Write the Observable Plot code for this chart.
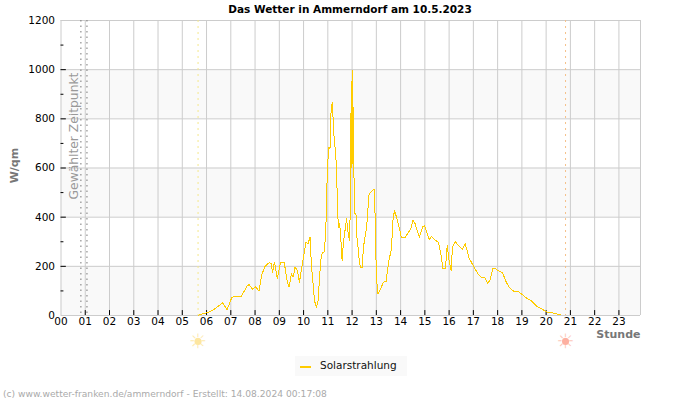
<!DOCTYPE html>
<html>
<head>
<meta charset="utf-8">
<script src="https://cdn.jsdelivr.net/npm/d3@7"></script>
<script src="https://cdn.jsdelivr.net/npm/@observablehq/plot@0.6"></script>
<style>
html,body{margin:0;padding:0;background:#fff;overflow:hidden;font-family:"DejaVu Sans",sans-serif}
#wrap{position:relative;width:700px;height:400px}
#wrap svg{position:absolute;left:0;top:0}
.ab{position:absolute;white-space:nowrap}
#title{left:0;width:700px;top:3px;text-align:center;font-weight:bold;font-size:10.5px;color:#000}
#legend{left:295px;top:356px;width:112px;height:20px;background:#f9f9f9}
#swatch{position:absolute;left:5px;top:10px;width:11px;height:2px;background:#ffcc00}
#ltext{position:absolute;left:25px;top:3px;font-size:10.5px;color:#111}
#caption{left:3px;top:389px;font-size:9.15px;color:#aaa}
</style>
</head>
<body>
<div id="wrap">
<div id="chart"></div>
<div class="ab" id="title"></div>
<div class="ab" id="legend"><div id="swatch"></div><div id="ltext"></div></div>
<div class="ab" id="caption"></div>
</div>
<script>
const titleText = "Das Wetter in Ammerndorf am 10.5.2023";
const seriesName = "Solarstrahlung";
const captionText = "(c) www.wetter-franken.de/ammerndorf - Erstellt: 14.08.2024 00:17:08";
const yLabel = "W/qm";
const xLabel = "Stunde";
const markerLabel = "Gewählter Zeitpunkt";

const hourTicks = d3.range(0, 24);
const yMajor = [0, 200, 400, 600, 800, 1000, 1200];
const yMinor = [100, 300, 500, 700, 900, 1100];
const bandLow = [0, 400, 800];
const bandHigh = [200, 600, 1000];
const sunrise = 5.65;
const sunset = 20.8;
const selected = [0.82, 1.07];

const hours = [5.65,5.75,6.0,6.22,6.43,6.67,6.84,7.05,7.42,7.67,7.75,7.9,8.03,8.16,8.27,8.4,8.57,8.66,8.72,8.8,8.92,9.05,9.2,9.33,9.4,9.5,9.57,9.65,9.75,9.83,9.93,10.02,10.1,10.18,10.27,10.32,10.38,10.45,10.53,10.6,10.65,10.71,10.78,10.85,10.9,10.94,10.98,11.04,11.09,11.12,11.18,11.2,11.26,11.33,11.37,11.4,11.44,11.49,11.55,11.59,11.64,11.7,11.77,11.81,11.86,11.9,11.93,11.945,11.975,12.0,12.02,12.045,12.08,12.11,12.16,12.2,12.26,12.3,12.36,12.41,12.47,12.54,12.6,12.65,12.7,12.77,12.84,12.91,12.92,12.96,12.98,13.02,13.07,13.18,13.29,13.4,13.46,13.53,13.6,13.65,13.69,13.75,13.83,13.94,14.03,14.17,14.28,14.42,14.51,14.6,14.7,14.78,14.9,14.98,15.08,15.18,15.27,15.45,15.56,15.66,15.75,15.85,15.92,16.0,16.08,16.14,16.25,16.55,16.66,16.83,17.0,17.2,17.31,17.48,17.59,17.69,17.8,17.93,18.02,18.2,18.35,18.49,18.7,18.87,19.03,19.23,19.37,19.6,19.81,20.03,20.27,20.47,20.6];
const watts = [0,4,11,19,34,52,23,75,77,119,126,107,117,99,163,199,214,213,176,217,149,217,217,136,115,170,156,197,183,136,197,251,298,292,319,210,142,61,31,61,142,224,258,258,319,414,597,685,678,814,868,834,719,651,556,427,359,373,292,224,292,339,393,359,319,305,475,823,600,997,620,848,556,414,414,319,264,217,194,194,278,325,359,427,495,502,508,513,420,414,244,136,88,108,136,138,183,231,258,319,393,427,400,359,319,316,332,353,386,373,339,319,359,366,339,308,321,305,297,251,190,190,285,224,183,278,300,268,293,232,202,168,157,153,130,144,191,189,182,174,137,113,96,96,84,68,61,39,27,14,11,5,3];
const solar = hours.map((h, i) => ({h, w: watts[i]}));
const bands = bandLow.map((lo, i) => ({lo, hi: bandHigh[i]}));

const font = '"DejaVu Sans", sans-serif';
const chart = Plot.plot({
  width: 700, height: 400,
  marginLeft: 60.5, marginRight: 60, marginTop: 20, marginBottom: 85,
  style: {fontFamily: font, fontSize: "10.5px", background: "transparent", overflow: "visible"},
  x: {domain: [0, 23.89], label: null},
  y: {domain: [0, 1200], label: null},
  marks: [
    Plot.rectY(bands, {x1: 0, x2: 23.89, y1: "lo", y2: "hi", fill: "#f9f9f9"}),
    Plot.ruleX(hourTicks, {stroke: "#cccccc", strokeWidth: 1}),
    Plot.ruleY(yMajor, {stroke: "#cccccc", strokeWidth: 1}),
    Plot.ruleX([23.89], {stroke: "#cccccc", strokeWidth: 1}),
    Plot.ruleX(hourTicks.slice(1), {y1: 0, y2: 20, stroke: "#000"}),
    Plot.ruleY(yMajor.slice(1, -1), {x1: 0, x2: 0.22, stroke: "#000"}),
    Plot.ruleY(yMinor, {x1: 0, x2: 0.12, stroke: "#000"}),
    Plot.ruleX([sunrise], {stroke: "#f5e88a", strokeDasharray: "2 4"}),
    Plot.ruleX([sunset], {stroke: "#f5c08a", strokeDasharray: "2 4"}),
    Plot.ruleX(selected, {stroke: "#777", strokeDasharray: "1.5 4"}),
    Plot.text([markerLabel], {x: 0.52, y: 730, text: d => d, rotate: -90, fontSize: 12.3, fill: "#999"}),
    Plot.line(solar, {x: "h", y: "w", stroke: "#ffcc00", strokeWidth: 1, shapeRendering: "crispEdges"}),
    Plot.text(["☀"], {x: sunrise, y: 0, dy: 26, text: d => d, fontSize: 20, fill: "#fdeab0"}),
    Plot.dot([sunrise], {x: d => d, y: 0, dy: 26, r: 3.5, fill: "#fde6a0"}),
    Plot.text(["☀"], {x: sunset, y: 0, dy: 26, text: d => d, fontSize: 20, fill: "#fdc8b8"}),
    Plot.dot([sunset], {x: d => d, y: 0, dy: 26, r: 3.5, fill: "#fdb0a0"}),
    Plot.axisX({ticks: hourTicks, tickSize: 0, tickPadding: 2, tickFormat: d => String(d).padStart(2, "0"), label: null, fill: "#000"}),
    Plot.axisY({ticks: yMajor, tickSize: 0, tickPadding: 6, label: null, tickFormat: d => String(d), fill: "#000"}),
    Plot.text([yLabel], {frameAnchor: "left", dx: -46.5, y: 610, textAnchor: "middle", text: d => d, rotate: -90, fontWeight: "bold", fontSize: 11, fill: "#777"}),
    Plot.text([xLabel], {x: 23.89, y: 0, dy: 19, textAnchor: "end", text: d => d, fontWeight: "bold", fontSize: 11, fill: "#777"})
  ]
});
document.getElementById("chart").append(chart);
document.getElementById("title").textContent = titleText;
document.getElementById("ltext").textContent = seriesName;
document.getElementById("caption").textContent = captionText;
</script>
</body>
</html>
